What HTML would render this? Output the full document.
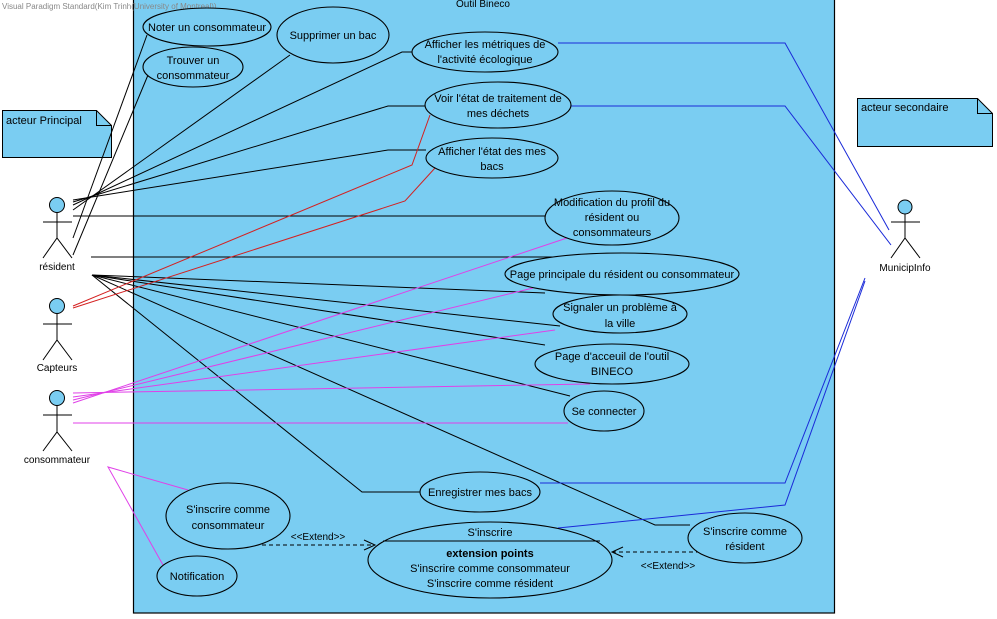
<!DOCTYPE html>
<html><head><meta charset="utf-8"><style>
html,body{margin:0;padding:0;background:#fff;}
svg{display:block;font-family:"Liberation Sans",sans-serif;}
</style></head><body>
<svg width="997" height="619" viewBox="0 0 997 619" xmlns="http://www.w3.org/2000/svg">
<rect x="133.5" y="-2" width="701" height="615" fill="#7acdf2" stroke="#000" stroke-width="1.2"/>
<text x="2" y="9" font-size="8" fill="#888">Visual Paradigm Standard(Kim Trinh(University of Montreal))</text>
<text x="483" y="7" font-size="10" text-anchor="middle">Outil Bineco</text>

<!-- notes -->
<path d="M2.5 110.5 H96.5 L111.5 125.5 V157.5 H2.5 Z" fill="#7acdf2" stroke="#000"/>
<path d="M96.5 110.5 V125.5 H111.5" fill="none" stroke="#000"/>
<text x="6" y="124" font-size="11">acteur Principal</text>
<path d="M857.5 98.5 H977.5 L992.5 113.5 V146.5 H857.5 Z" fill="#7acdf2" stroke="#000"/>
<path d="M977.5 98.5 V113.5 H992.5" fill="none" stroke="#000"/>
<text x="861" y="111" font-size="11">acteur secondaire</text>

<g fill="none" stroke-width="1">
<g stroke="#000">
<line x1="73" y1="238" x2="147" y2="35"/>
<line x1="73" y1="255" x2="148" y2="75"/>
<line x1="73" y1="210" x2="290" y2="55"/>
<polyline points="73,205 402,52 412,52"/>
<polyline points="73,202 388,106 426,106"/>
<polyline points="73,200 388,150 426,150"/>
<line x1="73" y1="216" x2="545" y2="216"/>
<line x1="91" y1="257" x2="600" y2="257"/>
<line x1="92" y1="275" x2="545" y2="293"/>
<line x1="92" y1="275" x2="560" y2="326"/>
<line x1="92" y1="275" x2="545" y2="345"/>
<line x1="92" y1="275" x2="570" y2="396"/>
<polyline points="92,275 362,492 420,492"/>
<polyline points="92,275 655,525 690,525"/>
</g>
<g stroke="#d42020">
<polyline points="73,306 412,165 430,115"/>
<polyline points="73,308 405,201 435,168"/>
</g>
<g stroke="#e040e8">
<line x1="73" y1="403" x2="567" y2="238"/>
<line x1="73" y1="400" x2="533" y2="288"/>
<line x1="73" y1="397" x2="555" y2="330"/>
<line x1="73" y1="393" x2="590" y2="384"/>
<line x1="73" y1="423" x2="568" y2="423"/>
<polyline points="188,490 108,467 163,565"/>
</g>
<g stroke="#1a2ad8">
<polyline points="558,43 785,43 889,230"/>
<polyline points="571,106 785,106 891,245"/>
<polyline points="540,483 785,483 865,278"/>
<polyline points="558,528 785,505 865,281"/>
</g>
<g stroke="#000">
<line x1="262" y1="545" x2="375" y2="545" stroke-dasharray="4,3"/>
<polyline points="364,540 375,545 364,550"/>
<line x1="700" y1="552" x2="612" y2="552" stroke-dasharray="4,3"/>
<polyline points="623,547 612,552 623,557"/>
</g>
</g>
<text x="318" y="540" font-size="10" text-anchor="middle">&lt;&lt;Extend&gt;&gt;</text>
<text x="668" y="569" font-size="10" text-anchor="middle">&lt;&lt;Extend&gt;&gt;</text>

<g fill="#7acdf2" stroke="#000" stroke-width="1.1">
<ellipse cx="207" cy="27" rx="64" ry="19"/>
<ellipse cx="193" cy="67" rx="50" ry="20"/>
<ellipse cx="333" cy="35" rx="56" ry="28"/>
<ellipse cx="485" cy="52" rx="73" ry="20"/>
<ellipse cx="498" cy="105" rx="73" ry="23"/>
<ellipse cx="492" cy="158" rx="66" ry="20"/>
<ellipse cx="612" cy="218" rx="67" ry="27"/>
<ellipse cx="622" cy="274" rx="117" ry="21"/>
<ellipse cx="620" cy="314" rx="67" ry="19"/>
<ellipse cx="612" cy="364" rx="77" ry="20"/>
<ellipse cx="604" cy="411" rx="40" ry="20"/>
<ellipse cx="480" cy="492" rx="60" ry="20"/>
<ellipse cx="490" cy="560" rx="122" ry="38"/>
<ellipse cx="745" cy="538" rx="57" ry="25"/>
<ellipse cx="228" cy="516" rx="62" ry="33"/>
<ellipse cx="197" cy="576" rx="40" ry="20"/>
</g>
<line x1="383" y1="541" x2="600" y2="541" stroke="#000"/>

<g font-size="11" text-anchor="middle" fill="#000">
<text x="207" y="31">Noter un consommateur</text>
<text x="193" y="64">Trouver un</text><text x="193" y="79">consommateur</text>
<text x="333" y="39">Supprimer un bac</text>
<text x="485" y="48">Afficher les métriques de</text><text x="485" y="63">l'activité écologique</text>
<text x="498" y="102">Voir l'état de traitement de</text><text x="498" y="117">mes déchets</text>
<text x="492" y="155">Afficher l'état des mes</text><text x="492" y="170">bacs</text>
<text x="612" y="206">Modification du profil du</text><text x="612" y="221">résident ou</text><text x="612" y="236">consommateurs</text>
<text x="622" y="278">Page principale du résident ou consommateur</text>
<text x="620" y="311">Signaler un problème à</text><text x="620" y="327">la ville</text>
<text x="612" y="360">Page d'acceuil de l'outil</text><text x="612" y="375">BINECO</text>
<text x="604" y="415">Se connecter</text>
<text x="480" y="496">Enregistrer mes bacs</text>
<text x="490" y="536">S'inscrire</text>
<text x="490" y="557" font-weight="bold">extension points</text>
<text x="490" y="572">S'inscrire comme consommateur</text>
<text x="490" y="587">S'inscrire comme résident</text>
<text x="745" y="535">S'inscrire comme</text><text x="745" y="550">résident</text>
<text x="228" y="513">S'inscrire comme</text><text x="228" y="529">consommateur</text>
<text x="197" y="580">Notification</text>
</g>

<g fill="#7acdf2" stroke="#000">
<circle cx="57" cy="205" r="7.5"/>
<path d="M57 212.5 V238 M43 222 H72 M43 258 L57 238 L72 258" fill="none"/>
<circle cx="57" cy="306" r="7.5"/>
<path d="M57 313.5 V340 M43 324 H72 M43 360 L57 340 L72 360" fill="none"/>
<circle cx="57" cy="398" r="7.5"/>
<path d="M57 405.5 V432 M43 415 H72 M43 451 L57 432 L72 451" fill="none"/>
<circle cx="905" cy="207" r="7"/>
<path d="M905 214 V238 M891 222 H920 M891 258 L905 238 L920 258" fill="none"/>
</g>
<g font-size="10" text-anchor="middle">
<text x="57" y="270">résident</text>
<text x="57" y="371">Capteurs</text>
<text x="57" y="463">consommateur</text>
<text x="905" y="271">MunicipInfo</text>
</g>
</svg>
</body></html>
